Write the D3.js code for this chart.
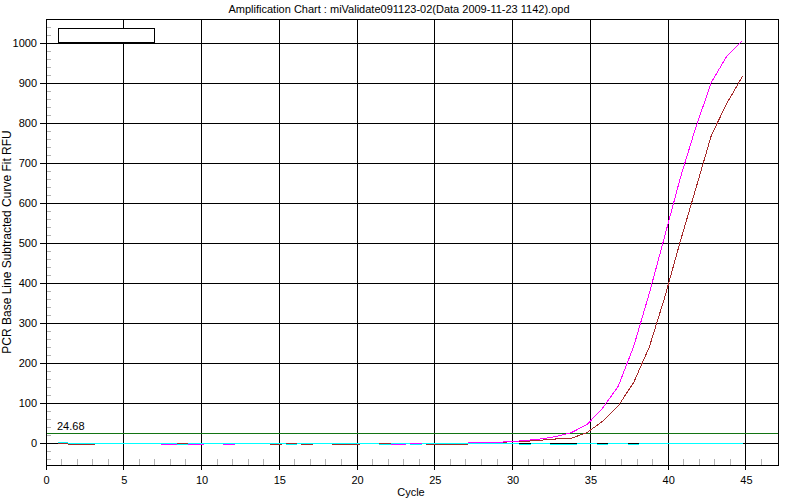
<!DOCTYPE html>
<html><head><meta charset="utf-8">
<script src="https://cdn.jsdelivr.net/npm/d3@7/dist/d3.min.js"></script>
<style>
body{margin:0;background:#fff}
svg{display:block}
text{font-family:"Liberation Sans",Arial,sans-serif;fill:#000}
</style>
</head><body>
<svg id="chart" width="800" height="500"></svg>
<script>
// ---------- data ----------
const title = "Amplification Chart : miValidate091123-02(Data 2009-11-23 1142).opd";
const xLabel = "Cycle";
const yLabel = "PCR Base Line Subtracted Curve Fit RFU";
const xTicks = [0,5,10,15,20,25,30,35,40,45];
const yTicks = [0,100,200,300,400,500,600,700,800,900,1000];
const threshold = 24.68;
const thresholdLabel = "24.68";
// cycle positions of the plotted points
const cycles = [0.78,1.78,2.78,3.78,4.78,5.78,6.78,7.78,8.78,9.78,
  10.78,11.78,12.78,13.78,14.78,15.78,16.78,17.78,18.78,19.78,
  20.78,21.78,22.78,23.78,24.78,25.78,26.78,27.78,28.78,29.78,
  30.78,31.78,32.78,33.78,34.78,35.78,36.78,37.78,38.78,39.78,
  40.78,41.78,42.78,43.78,44.78];
const brownRFU = [0,-2.5,-2.5,0,0,0,0,0,0,0,
  0,0,0,0,-2.5,0,-2.5,0,-2.5,-2.5,
  0,0,0,0,-2.5,-2.5,-2.5,0,0,4,
  5,8,11,13,27,55,93,152,240,365,
  505,637,770,850,917];
const magentaRFU = [2.5,0,0,0,0,0,0,-2.5,-2.5,-2.5,
  0,-2.5,0,0,0,-2.5,0,0,0,0,
  0,-2.5,-2.5,0,0,0,0,2.5,2.5,4,
  7,11,17,27,47,88,142,242,374,518,
  663,790,902,968,1006];
const cyanRFU = [2.5,0,0,0,0,0,0,0,-2.5,0,
  0,0,0,0,0,-2.5,0,0,0,0,
  0,-2.5,0,-2.5,0,0,0,0,0,0,
  -2.5,0,-2.5,-2.5,0,-2.5,0,-2.5,0,0,
  0,0,0,0,0];

// ---------- layout ----------
const svg = d3.select("#chart");
const L = 46, R = 778, T = 19, B = 465;
const x = d3.scaleLinear().domain([0, 47.06]).range([L, R]);
const y = d3.scaleLinear().domain([-54, 1060]).range([B, T]);
const sx = v => Math.floor(x(v)) + 0.5;
const sy = v => Math.floor(y(v)) + 0.5;

svg.append("rect").attr("width",800).attr("height",500).attr("fill","#fff");

// title
svg.append("text").attr("x",399).attr("y",13).attr("text-anchor","middle")
  .attr("font-size",11).text(title);

const g = svg.append("g").attr("shape-rendering","crispEdges");

// minor ticks (grey)
const xMinor = d3.range(1, 47).filter(v => v % 5 !== 0);
g.selectAll(".xm").data(xMinor).enter().append("line")
  .attr("x1", d => sx(d)).attr("x2", d => sx(d))
  .attr("y1", B - 6).attr("y2", B)
  .attr("stroke","#b4b4b4");
const yMinor = d3.range(-40, 1061, 20).filter(v => v % 100 !== 0);
g.selectAll(".ym").data(yMinor).enter().append("line")
  .attr("x1", L).attr("x2", L + 5)
  .attr("y1", d => sy(d)).attr("y2", d => sy(d))
  .attr("stroke","#b4b4b4");

// grid lines
g.selectAll(".gx").data(xTicks.filter(d => d > 0)).enter().append("line")
  .attr("x1", d => sx(d)).attr("x2", d => sx(d))
  .attr("y1", T).attr("y2", B)
  .attr("stroke","#000");
g.selectAll(".gy").data(yTicks).enter().append("line")
  .attr("x1", L).attr("x2", R)
  .attr("y1", d => sy(d)).attr("y2", d => sy(d))
  .attr("stroke","#000");

// threshold
g.append("line").attr("x1", L).attr("x2", R)
  .attr("y1", sy(threshold)).attr("y2", sy(threshold))
  .attr("stroke","#137413");
svg.append("text").attr("x", 57).attr("y", 430).attr("font-size", 11).text(thresholdLabel);

// curves
const line = d3.line().x((d,i) => x(cycles[i])).y(d => y(d));
const series = [
  {values: brownRFU, color: "#a52a2a"},
  {values: magentaRFU, color: "#ff00ff"},
  {values: cyanRFU, color: "#00ffff"}
];
g.selectAll(".curve").data(series).enter().append("path")
  .attr("d", d => line(d.values))
  .attr("fill","none").attr("stroke", d => d.color).attr("stroke-width",1);

// frame
g.append("rect").attr("x", L + 0.5).attr("y", T + 0.5)
  .attr("width", R - L).attr("height", B - T)
  .attr("fill","none").attr("stroke","#000");

// legend box
g.append("rect").attr("x", 58.5).attr("y", 28.5).attr("width", 96).attr("height", 14)
  .attr("fill","#fff").attr("stroke","#000");

// x axis ticks + labels
g.selectAll(".tx").data(xTicks).enter().append("line")
  .attr("x1", d => sx(d)).attr("x2", d => sx(d))
  .attr("y1", B).attr("y2", B + 5).attr("stroke","#000");
svg.selectAll(".lx").data(xTicks).enter().append("text")
  .attr("x", d => x(d) + 0.5).attr("y", 484).attr("text-anchor","middle")
  .attr("font-size", 11).text(d => d);
svg.append("text").attr("x", 411).attr("y", 496).attr("text-anchor","middle")
  .attr("font-size", 11).text(xLabel);

// y axis ticks + labels
g.selectAll(".ty").data(yTicks).enter().append("line")
  .attr("x1", L - 6).attr("x2", L)
  .attr("y1", d => sy(d)).attr("y2", d => sy(d)).attr("stroke","#000");
svg.selectAll(".ly").data(yTicks).enter().append("text")
  .attr("x", 37).attr("y", d => y(d) + 4).attr("text-anchor","end")
  .attr("font-size", 11).text(d => d);
svg.append("text").attr("transform","translate(11,242) rotate(-90)")
  .attr("text-anchor","middle").attr("font-size", 12).text(yLabel);
</script>
</body></html>
